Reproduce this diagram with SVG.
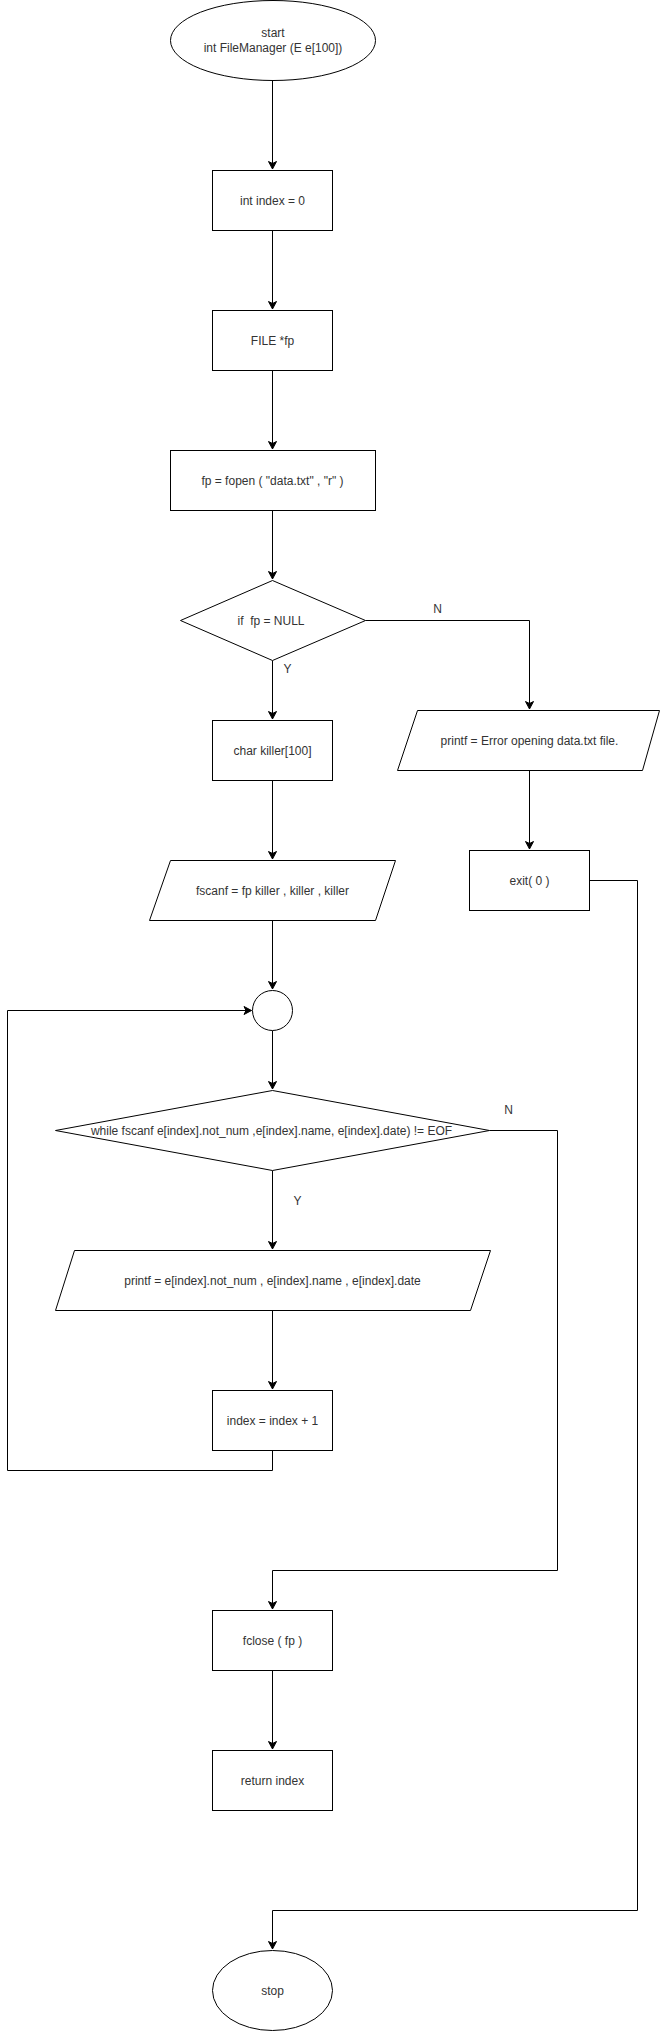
<svg xmlns="http://www.w3.org/2000/svg" width="663" height="2031" viewBox="0 0 663 2031">
<style>
.s{fill:#fff;stroke:#000;stroke-width:1}
.t{font-family:"Liberation Sans",Arial,sans-serif;font-size:12px;fill:#333;text-anchor:middle}
.c{fill:none;stroke:#000;stroke-width:1}
.a{marker-end:url(#arr)}
</style>
<defs>
<marker id="arr" markerUnits="userSpaceOnUse" markerWidth="9" markerHeight="9" viewBox="-8 -4.5 9 9" refX="0" refY="0" orient="auto" overflow="visible">
<path d="M0,0 L-7.5,-4 L-5.5,0 L-7.5,4 Z" fill="#000" stroke="#000" stroke-width="1" stroke-linejoin="miter"/>
</marker>
</defs>
<rect width="663" height="2031" fill="#fff"/>
<g id="connectors">
<path class="c a" d="M272.5,80.5 V169"/>
<path class="c a" d="M272.5,230.5 V309"/>
<path class="c a" d="M272.5,370.5 V449"/>
<path class="c a" d="M272.5,510.5 V579"/>
<path class="c a" d="M365.5,620.5 H529.5 V709"/>
<path class="c a" d="M529.5,770.5 V849"/>
<path class="c a" d="M589.5,880.5 H637.5 V1910.5 H272.5 V1949"/>
<path class="c a" d="M272.5,660.5 V719"/>
<path class="c a" d="M272.5,780.5 V859"/>
<path class="c a" d="M272.5,920.5 V989"/>
<path class="c a" d="M272.5,1030.5 V1089"/>
<path class="c a" d="M489.5,1130.5 H557.5 V1570.5 H272.5 V1609"/>
<path class="c a" d="M272.5,1170.5 V1249"/>
<path class="c a" d="M272.5,1310.5 V1389"/>
<path class="c a" d="M272.5,1450.5 V1470.5 H7.5 V1010.5 H251.5"/>
<path class="c a" d="M272.5,1670.5 V1749"/>
<text class="t" x="437.5" y="613">N</text>
<text class="t" x="287.5" y="673">Y</text>
<text class="t" x="508.5" y="1114">N</text>
<text class="t" x="297.5" y="1205">Y</text>
</g>
<g id="start">
<ellipse class="s" cx="273" cy="40.5" rx="102.5" ry="40"/>
<text class="t" x="273" y="37">start</text>
<text class="t" x="273" y="52">int FileManager (E e[100])</text>
</g>
<g id="init-index">
<rect class="s" x="212.5" y="170.5" width="120" height="60"/>
<text class="t" x="272.5" y="204.5">int index = 0</text>
</g>
<g id="file-fp">
<rect class="s" x="212.5" y="310.5" width="120" height="60"/>
<text class="t" x="272.5" y="344.5">FILE *fp</text>
</g>
<g id="fopen">
<rect class="s" x="170.5" y="450.5" width="205" height="60"/>
<text class="t" x="272.5" y="484.5">fp = fopen ( "data.txt" , "r" )</text>
</g>
<g id="if-null">
<path class="s" d="M272.5,580.5 L365.5,620.5 L272.5,660.5 L180.5,620.5 Z"/>
<text class="t" x="271" y="624.5" xml:space="preserve">if  fp = NULL</text>
</g>
<g id="printf-error">
<path class="s" d="M417.5,710.5 H659.5 L642.5,770.5 H397.5 Z"/>
<text class="t" x="529.5" y="744.5">printf = Error opening data.txt file.</text>
</g>
<g id="exit">
<rect class="s" x="469.5" y="850.5" width="120" height="60"/>
<text class="t" x="529.5" y="884.5">exit( 0 )</text>
</g>
<g id="char-killer">
<rect class="s" x="212.5" y="720.5" width="120" height="60"/>
<text class="t" x="272.5" y="754.5">char killer[100]</text>
</g>
<g id="fscanf-killer">
<path class="s" d="M170.5,860.5 H395.5 L375.5,920.5 H149.5 Z"/>
<text class="t" x="272.5" y="894.5">fscanf = fp killer , killer , killer</text>
</g>
<g id="junction">
<ellipse class="s" cx="272.5" cy="1010.5" rx="20" ry="20"/>
</g>
<g id="while">
<path class="s" d="M272.5,1090.5 L489.5,1130.5 L272.5,1170.5 L55.5,1130.5 Z"/>
<text class="t" x="271.5" y="1134.5">while fscanf e[index].not_num ,e[index].name, e[index].date) != EOF</text>
</g>
<g id="printf-record">
<path class="s" d="M74.5,1250.5 H490.5 L470.5,1310.5 H55.5 Z"/>
<text class="t" x="272.5" y="1284.5">printf = e[index].not_num , e[index].name , e[index].date</text>
</g>
<g id="increment">
<rect class="s" x="212.5" y="1390.5" width="120" height="60"/>
<text class="t" x="272.5" y="1424.5">index = index + 1</text>
</g>
<g id="fclose">
<rect class="s" x="212.5" y="1610.5" width="120" height="60"/>
<text class="t" x="272.5" y="1644.5">fclose ( fp )</text>
</g>
<g id="return">
<rect class="s" x="212.5" y="1750.5" width="120" height="60"/>
<text class="t" x="272.5" y="1784.5">return index</text>
</g>
<g id="stop">
<ellipse class="s" cx="272.5" cy="1990.5" rx="60" ry="40"/>
<text class="t" x="272.5" y="1994.5">stop</text>
</g>
</svg>
